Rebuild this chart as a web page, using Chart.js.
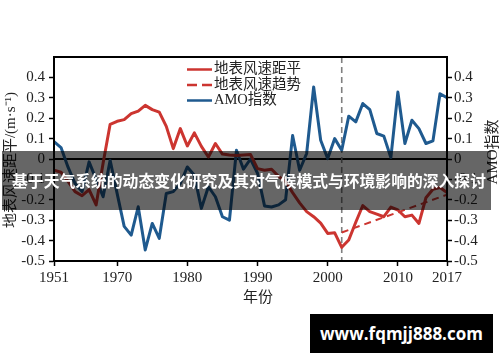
<!DOCTYPE html>
<html><head><meta charset="utf-8">
<script src="https://cdn.jsdelivr.net/npm/chart.js@4"></script>
<style>
html,body{margin:0;padding:0;background:#fff;}
#wrap{position:relative;width:500px;height:362px;overflow:hidden;}
#c{position:absolute;left:0;top:0;}
#banner{position:absolute;left:2px;top:151px;width:489px;height:59px;background:rgba(0,0,0,0.6);}
#btext{position:absolute;left:0;top:151px;width:498px;height:59px;line-height:59px;text-align:center;color:#fff;font-weight:bold;font-size:15.8px;font-family:"Noto Sans CJK SC";white-space:nowrap;}
#wm{position:absolute;left:310px;top:314px;width:183px;height:39px;background:#000;color:#fff;font-weight:bold;font-size:17px;font-family:"Open Sans";line-height:39px;text-align:center;}
</style>
</head><body>
<div id="wrap">
<canvas id="c" width="500" height="362"></canvas>
<div id="banner"></div>
<div id="btext">基于天气系统的动态变化研究及其对气候模式与环境影响的深入探讨</div>
<div id="wm">www.fqmjj888.com</div>
</div>
<script>
const years = [];
for (let y = 1961; y <= 2017; y++) years.push(y);

const windAnomaly = [
 -0.055,-0.065,-0.11,-0.16,-0.18,-0.15,-0.225,-0.02,0.17,
 0.185,0.193,0.222,0.235,0.263,0.242,0.23,0.16,0.051,0.149,
 0.064,0.128,0.062,0.01,0.076,0.024,0.02,0.017,0.02,0.022,
 -0.047,-0.055,-0.05,-0.085,-0.11,-0.165,-0.215,-0.258,-0.283,-0.314,
 -0.365,-0.362,-0.433,-0.397,-0.31,-0.228,-0.258,-0.27,-0.283,-0.236,
 -0.25,-0.283,-0.275,-0.316,-0.19,-0.148,-0.14,-0.165
];
const amoIndex = [
 0.085,0.056,-0.04,-0.12,-0.16,-0.014,-0.10,-0.185,-0.006,
 -0.17,-0.33,-0.373,-0.234,-0.446,-0.316,-0.389,-0.169,-0.16,-0.12,
 -0.039,-0.08,-0.242,-0.136,-0.185,-0.283,-0.3,0.043,-0.05,0.0,
 -0.07,-0.23,-0.235,-0.225,-0.2,0.115,-0.055,0.027,0.353,0.092,
 0.002,0.1,0.043,0.21,0.182,0.272,0.242,0.125,0.112,0.007,
 0.328,0.076,0.19,0.149,0.076,0.089,0.32,0.3
];
const trendYears = [2002, 2017];
const trendValues = [-0.36, -0.175];
const breakYear = 2002;

const xTickValues = [1961, 1970, 1980, 1990, 2000, 2010, 2017];
const xTickLabels = ['1951', '1970', '1980', '1990', '2000', '2010', '2017'];
const yTickValues = [-0.5,-0.4,-0.3,-0.2,-0.1,0,0.1,0.2,0.3,0.4];
const yTickLabels = ['-0.5','-0.4','-0.3','-0.2','-0.1','0','0.1','0.2','0.3','0.4'];

const seriesNames = ['地表风速距平', '地表风速趋势', 'AMO指数'];
const leftTitle = '地表风速距平/(m·s⁻¹)';
const rightTitle = 'AMO指数';
const xTitle = '年份';

const RED = '#cc3530';
const BLUE = '#1f5a8f';
const FONT = '"Liberation Serif", "Noto Sans CJK SC"';

const toXY = (xs, ys) => xs.map((x, i) => ({x: x, y: ys[i]}));

const yScaleCommon = {
  type: 'linear', min: -0.5, max: 0.5,
  afterBuildTicks: s => { s.ticks = yTickValues.map(v => ({value: v})); },
  ticks: { callback: (v, i) => yTickLabels[i], font: {family: FONT, size: 15}, color: '#222' },
  grid: { display: true, drawOnChartArea: false, drawTicks: true, tickLength: 5, tickColor: '#000', tickWidth: 1.5 },
  border: { display: true, color: '#000', width: 2 }
};

const decor = {
  id: 'decor',
  beforeDatasetsDraw(chart) {
    const {ctx, chartArea: a, scales} = chart;
    ctx.save();
    const y0 = scales.y.getPixelForValue(0);
    ctx.strokeStyle = '#000'; ctx.lineWidth = 1.8;
    ctx.beginPath(); ctx.moveTo(a.left, y0); ctx.lineTo(a.right, y0); ctx.stroke();
    const xb = scales.x.getPixelForValue(breakYear);
    ctx.strokeStyle = '#808080'; ctx.lineWidth = 1.6; ctx.setLineDash([6, 4]);
    ctx.beginPath(); ctx.moveTo(xb, a.top); ctx.lineTo(xb, a.bottom); ctx.stroke();
    ctx.restore();
  },
  afterDraw(chart) {
    const {ctx, chartArea: a} = chart;
    ctx.save();
    ctx.strokeStyle = '#000'; ctx.lineWidth = 2;
    ctx.strokeRect(a.left, a.top, a.right - a.left, a.bottom - a.top);
    ctx.fillStyle = '#222';
    ctx.font = '15px ' + FONT;
    ctx.textAlign = 'center'; ctx.textBaseline = 'middle';
    ctx.save(); ctx.translate(11, 160); ctx.rotate(-Math.PI / 2); ctx.fillText(leftTitle, 0, 0); ctx.restore();
    ctx.save(); ctx.translate(493, 152); ctx.rotate(-Math.PI / 2); ctx.fillText(rightTitle, 0, 0); ctx.restore();
    ctx.fillText(xTitle, 258, 298);
    const ds = chart.data.datasets;
    const rows = [69.5, 85, 100.5];
    ctx.textAlign = 'left';
    ctx.font = '14.5px ' + FONT;
    ds.forEach((d, i) => {
      const y = rows[i];
      ctx.strokeStyle = d.borderColor; ctx.lineWidth = 2.5;
      ctx.setLineDash(d.borderDash && d.borderDash.length ? [10, 5] : []);
      ctx.beginPath(); ctx.moveTo(187, y); ctx.lineTo(212, y); ctx.stroke();
      ctx.setLineDash([]);
      ctx.fillStyle = '#222';
      ctx.fillText(d.label, 214, y);
    });
    ctx.restore();
  }
};

new Chart(document.getElementById('c'), {
  type: 'line',
  data: {
    datasets: [
      { label: seriesNames[0], data: toXY(years, windAnomaly), borderColor: RED, borderWidth: 3, pointRadius: 0, yAxisID: 'y', borderJoinStyle: 'round', tension: 0 },
      { label: seriesNames[1], data: toXY(trendYears, trendValues), borderColor: RED, borderWidth: 2, borderDash: [7, 5], pointRadius: 0, yAxisID: 'y' },
      { label: seriesNames[2], data: toXY(years, amoIndex), borderColor: BLUE, borderWidth: 3, pointRadius: 0, yAxisID: 'y2', borderJoinStyle: 'round', tension: 0 }
    ]
  },
  options: {
    responsive: false, animation: false, devicePixelRatio: 1,
    layout: { padding: { top: 57, left: 0, right: 0, bottom: 0 } },
    plugins: { legend: { display: false }, tooltip: { enabled: false } },
    scales: {
      x: {
        type: 'linear', min: 1961, max: 2017,
        afterBuildTicks: s => { s.ticks = xTickValues.map(v => ({value: v})); },
        afterFit: s => { s.height = 101; },
        ticks: { callback: (v, i) => xTickLabels[i], font: {family: FONT, size: 15}, color: '#222', maxRotation: 0, autoSkip: false, padding: 3 },
        grid: { display: true, drawOnChartArea: false, drawTicks: true, tickLength: 5, tickColor: '#000', tickWidth: 1.5 },
        border: { display: true, color: '#000', width: 2 }
      },
      y: Object.assign({}, yScaleCommon, { position: 'left', afterFit: s => { s.width = 54; },
        ticks: Object.assign({}, yScaleCommon.ticks, { padding: 4 }) }),
      y2: Object.assign({}, yScaleCommon, { position: 'right', afterFit: s => { s.width = 53; },
        ticks: Object.assign({}, yScaleCommon.ticks, { padding: 2 }) })
    }
  },
  plugins: [decor]
});
</script>
</body></html>
